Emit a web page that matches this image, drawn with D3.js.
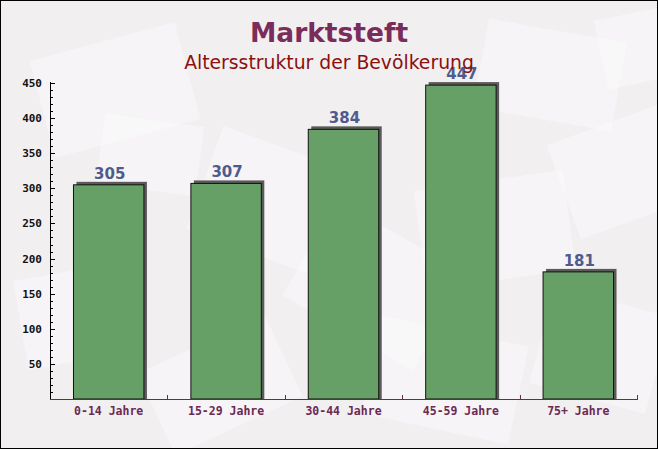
<!DOCTYPE html>
<html><head><meta charset="utf-8">
<script src="https://cdn.jsdelivr.net/npm/d3@7"></script>
<style>html,body{margin:0;padding:0;background:#fff}svg{display:block}</style>
</head><body>
<script>
const categories = ["0-14 Jahre","15-29 Jahre","30-44 Jahre","45-59 Jahre","75+ Jahre"];
const values = [305, 307, 384, 447, 181];
const yTicks = [50,100,150,200,250,300,350,400,450];
const title = "Marktsteft";
const subtitle = "Altersstruktur der Bevölkerung";

(function(){
const W = 658, H = 449;
const svg = d3.select("body").append("svg").attr("width", W).attr("height", H);

// background
svg.append("rect").attr("x",0).attr("y",0).attr("width",W).attr("height",H).attr("fill","#f2eff1");
const deco = [
  [40,40,150,100,-15],[200,150,160,110,20],[480,30,140,90,10],[560,120,130,100,-20],
  [20,270,120,90,-10],[300,230,150,110,30],[420,180,150,100,-8],[540,300,120,100,15],
  [150,340,140,90,-25],[370,330,150,100,12],[100,120,100,70,8],[600,10,100,70,-12]
];
const dg = svg.append("g");
deco.forEach(d=>{
  dg.append("rect").attr("x",d[0]).attr("y",d[1]).attr("width",d[2]).attr("height",d[3])
    .attr("fill","#ffffff").attr("opacity",0.35)
    .attr("transform",`rotate(${d[4]},${d[0]+d[2]/2},${d[1]+d[3]/2})`);
});

const mL = 50, mR = 637, mT = 83, mB = 399;
const x = d3.scaleBand().domain(categories).range([mL, mR]).paddingInner(0.4).paddingOuter(0.2);
const y = d3.scaleLinear().domain([0, 450]).range([mB, mT]);

// bars
const g = svg.append("g");
categories.forEach((c,i)=>{
  const bx = x(c), bw = x.bandwidth(), by = y(values[i]);
  g.append("rect").attr("x",bx+3).attr("y",by-3).attr("width",bw).attr("height",mB-by+3)
    .attr("fill","#5a5a5a");
  g.append("rect").attr("x",bx).attr("y",by).attr("width",bw).attr("height",mB-by)
    .attr("fill","#67a067").attr("stroke","#111").attr("stroke-width",1);
  g.append("text").attr("x",bx+bw/2+1).attr("y",by-6).attr("text-anchor","middle")
    .attr("font-family","DejaVu Sans").attr("font-weight","bold").attr("font-size",15)
    .attr("fill","#4f5b8c").text(values[i]);
});

// y axis
const ya = svg.append("g").attr("transform",`translate(${mL},0)`);
ya.append("line").attr("x1",0.5).attr("x2",0.5).attr("y1",mT-1).attr("y2",mB).attr("stroke","#000");
d3.range(0, 451, 10).forEach(v=>{
  if (v===0) return;
  const major = v % 50 === 0;
  ya.append("line").attr("x1",0).attr("x2",major?5:3).attr("y1",Math.round(y(v))+0.5).attr("y2",Math.round(y(v))+0.5).attr("stroke","#000");
});
yTicks.forEach(v=>{
  ya.append("text").attr("x",-8).attr("y",y(v)+4).attr("text-anchor","end")
    .attr("font-family","DejaVu Sans Mono").attr("font-weight","bold").attr("font-size",11)
    .attr("fill","#111").text(v);
});

// x axis
const xa = svg.append("g");
xa.append("line").attr("x1",mL).attr("x2",mR+1).attr("y1",mB+0.5).attr("y2",mB+0.5).attr("stroke","#6b2a4c");
for (let k=1;k<=5;k++){
  const tx = Math.round(mL + (mR-mL)*k/5)+0.5;
  xa.append("line").attr("x1",tx).attr("x2",tx).attr("y1",mB).attr("y2",mB-4).attr("stroke","#6b2a4c");
}
categories.forEach(c=>{
  xa.append("text").attr("x",x(c)+x.bandwidth()/2).attr("y",mB+16).attr("text-anchor","middle")
    .attr("font-family","DejaVu Sans Mono").attr("font-weight","bold").attr("font-size",11.5)
    .attr("fill","#6b2a52").text(c);
});

// titles
svg.append("text").attr("x",329).attr("y",42).attr("text-anchor","middle")
  .attr("font-family","DejaVu Sans").attr("font-weight","bold").attr("font-size",26.5)
  .attr("fill","#7a2d5a").text(title);
svg.append("text").attr("x",329).attr("y",69).attr("text-anchor","middle")
  .attr("font-family","DejaVu Sans").attr("font-size",18.8)
  .attr("fill","#8b1010").text(subtitle);

// border
svg.append("rect").attr("x",0.5).attr("y",0.5).attr("width",W-1).attr("height",H-1).attr("fill","none").attr("stroke","#000");
})();
</script>
</body></html>
